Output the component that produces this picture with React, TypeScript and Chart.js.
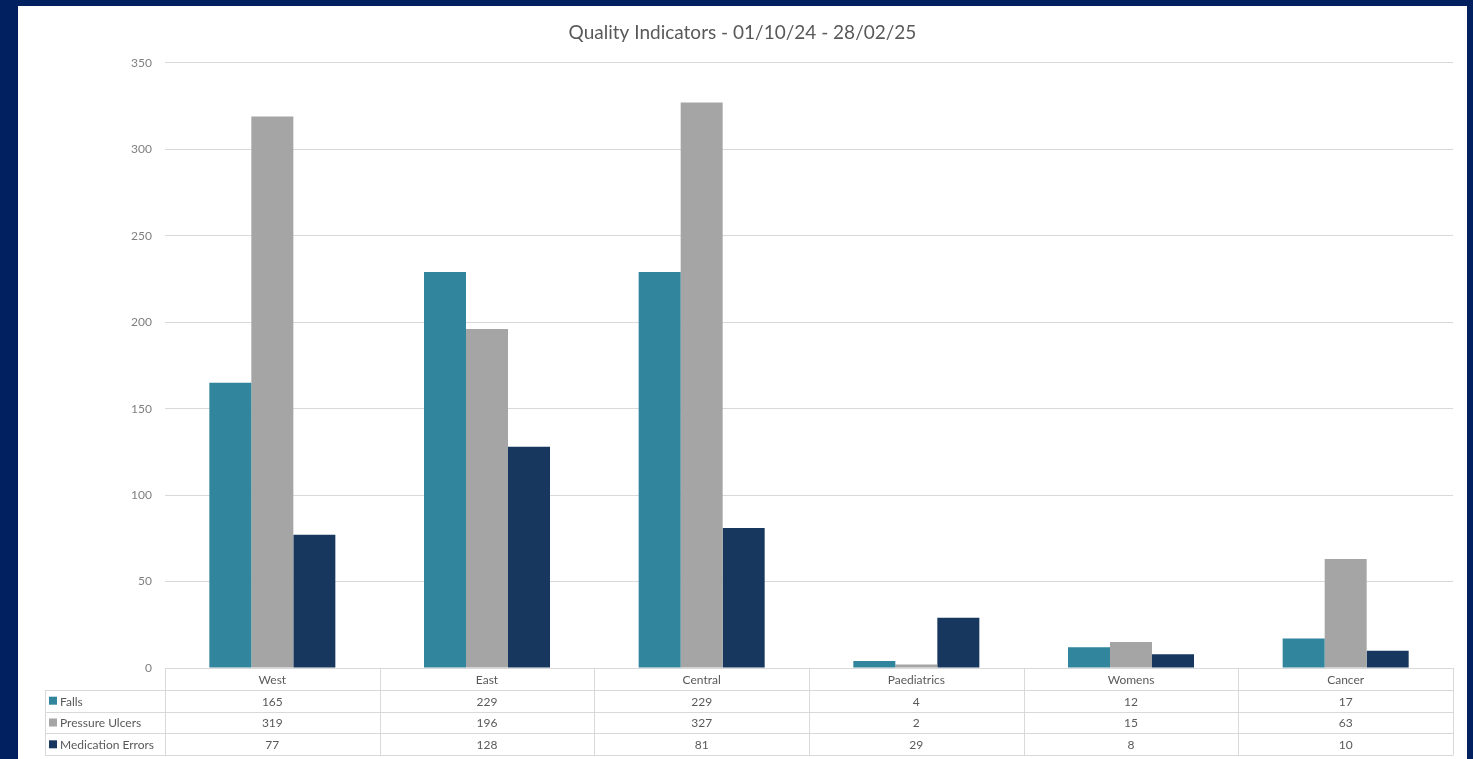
import React, { useEffect, useRef } from "react";
import { Chart, registerables } from "chart.js";

Chart.register(...registerables);

const categories = ["West", "East", "Central", "Paediatrics", "Womens", "Cancer"];
const falls = [165, 229, 229, 4, 12, 17];
const pressureUlcers = [319, 196, 327, 2, 15, 63];
const medicationErrors = [77, 128, 81, 29, 8, 10];
const seriesNames = ["Falls", "Pressure Ulcers", "Medication Errors"];
const seriesColors = ["#31859c", "#a5a5a5", "#17375e"];

const FONT = "Lato, 'Open Sans', sans-serif";
const TEXT = "#595959";
const TICK = "#7f7f7f";
const LINE = "#d9d9d9";

// Draws the data table (category header + one row per series) under the plot area
const dataTablePlugin = {
  id: "dataTable",
  afterDraw(chart: any) {
    const { ctx, chartArea } = chart;
    const n = categories.length;
    const left = chartArea.left;
    const right = chartArea.right;
    const top = chartArea.bottom;
    const rowH = 21.8;
    const cellW = (right - left) / n;
    const tableLeft = 27;
    const rows = [falls, pressureUlcers, medicationErrors];

    ctx.save();
    ctx.strokeStyle = LINE;
    ctx.lineWidth = 1;
    ctx.beginPath();
    // header top
    ctx.moveTo(left, top + 0.5);
    ctx.lineTo(right, top + 0.5);
    for (let r = 1; r <= 4; r++) {
      const y = Math.round(top + r * rowH) + 0.5;
      ctx.moveTo(tableLeft, y);
      ctx.lineTo(right, y);
    }
    for (let k = 0; k <= n; k++) {
      const x = Math.round(left + k * cellW) + 0.5;
      ctx.moveTo(x, top);
      ctx.lineTo(x, Math.round(top + 4 * rowH) + 0.5);
    }
    ctx.moveTo(tableLeft + 0.5, Math.round(top + rowH));
    ctx.lineTo(tableLeft + 0.5, Math.round(top + 4 * rowH) + 0.5);
    ctx.stroke();

    ctx.font = `12px ${FONT}`;
    ctx.fillStyle = TEXT;
    ctx.textBaseline = "middle";
    ctx.textAlign = "center";
    for (let i = 0; i < n; i++) {
      const cx = left + (i + 0.5) * cellW;
      ctx.fillText(categories[i], cx, top + rowH / 2 + 1);
      rows.forEach((vals, r) => {
        ctx.fillText(String(vals[i]), cx, top + (r + 1.5) * rowH + 1);
      });
    }
    ctx.textAlign = "left";
    seriesNames.forEach((name, r) => {
      const cy = top + (r + 1.5) * rowH;
      ctx.fillStyle = seriesColors[r];
      ctx.fillRect(tableLeft + 4, cy - 4, 8, 8);
      ctx.fillStyle = TEXT;
      ctx.fillText(name, tableLeft + 15, cy + 1);
    });
    ctx.restore();
  },
};

export default function App() {
  const canvasRef = useRef<HTMLCanvasElement | null>(null);

  useEffect(() => {
    if (!canvasRef.current) return;
    const chart = new Chart(canvasRef.current, {
      type: "bar",
      data: {
        labels: categories,
        datasets: [
          { label: seriesNames[0], data: falls, backgroundColor: seriesColors[0] },
          { label: seriesNames[1], data: pressureUlcers, backgroundColor: seriesColors[1] },
          { label: seriesNames[2], data: medicationErrors, backgroundColor: seriesColors[2] },
        ],
      },
      options: {
        animation: false,
        responsive: false,
        maintainAspectRatio: false,
        datasets: {
          bar: { barPercentage: 1, categoryPercentage: 0.587 },
        },
        layout: { padding: { left: 14, right: 14, bottom: 91, top: 0 } },
        plugins: {
          legend: { display: false },
          tooltip: { enabled: false },
          title: {
            display: true,
            text: "Quality Indicators - 01/10/24 - 28/02/25",
            color: TEXT,
            font: { family: FONT, size: 19, weight: "normal" },
            padding: { top: 15, bottom: 19 },
          },
        },
        scales: {
          x: { display: false },
          y: {
            min: 0,
            max: 350,
            ticks: {
              stepSize: 50,
              color: TICK,
              padding: 13,
              font: { family: FONT, size: 12 },
            },
            grid: { color: LINE, drawTicks: false },
            border: { display: false },
            afterFit(scale: any) {
              scale.width = 133;
            },
          },
        },
      },
      plugins: [dataTablePlugin],
    });
    return () => chart.destroy();
  }, []);

  return (
    <div style={{ position: "fixed", inset: 0, background: "#002060" }}>
      <div
        style={{
          position: "absolute",
          left: 18,
          top: 6,
          width: 1449,
          height: 753,
          background: "#ffffff",
        }}
      >
        <canvas ref={canvasRef} width={1449} height={753} style={{ display: "block" }} />
      </div>
    </div>
  );
}
